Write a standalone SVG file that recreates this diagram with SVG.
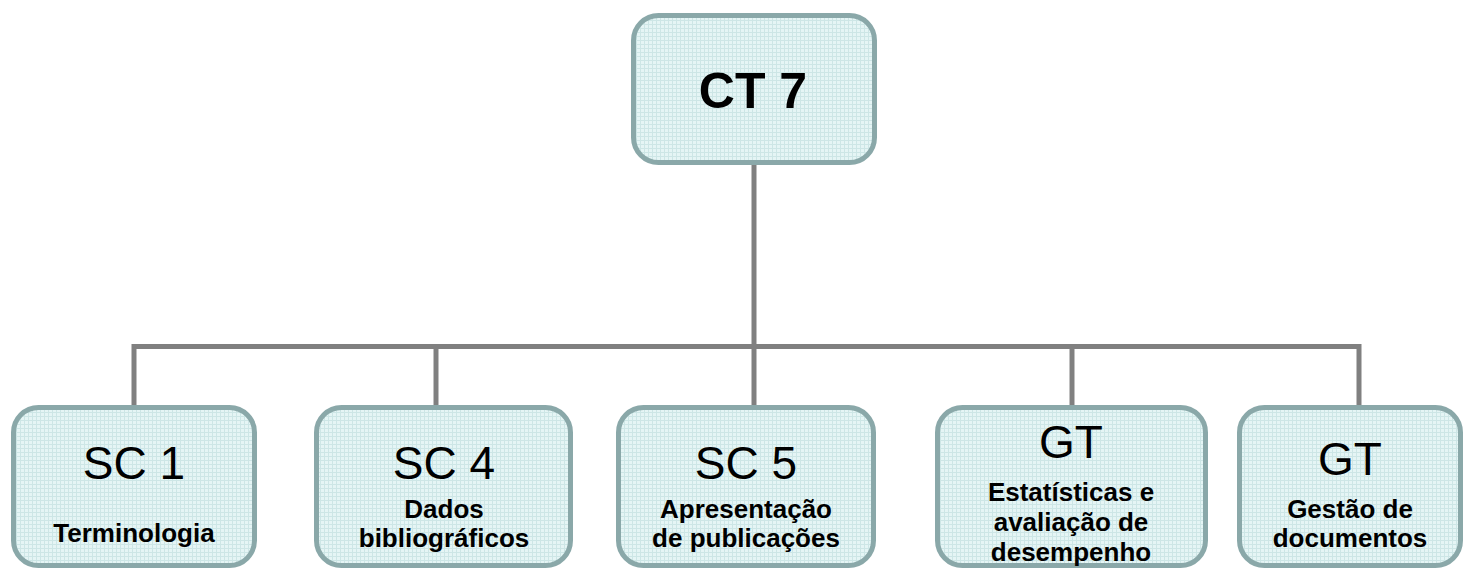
<svg xmlns="http://www.w3.org/2000/svg" width="1464" height="570" viewBox="0 0 1464 570">
  <defs>
    <pattern id="grid" width="4" height="4" patternUnits="userSpaceOnUse">
      <rect width="4" height="4" fill="#e5f5f5"/>
      <path d="M0 0.5H4M0.5 0V4" stroke="#cde6e6" stroke-width="1"/>
    </pattern>
    <style>
      .box { fill: url(#grid); stroke: #8aa8a9; stroke-width: 5; }
      .conn { stroke: #808080; stroke-width: 5; fill: none; }
      .big { font-family: "Liberation Sans", Arial, sans-serif; font-size: 46px; fill: #000; text-anchor: middle; }
      .small { font-family: "Liberation Sans", Arial, sans-serif; font-size: 26px; font-weight: bold; fill: #000; text-anchor: middle; }
      .title { font-family: "Liberation Sans", Arial, sans-serif; font-size: 50px; font-weight: bold; fill: #000; text-anchor: middle; }
    </style>
  </defs>
  <rect width="1464" height="570" fill="#ffffff"/>
  <g id="connectors">
    <path class="conn" d="M754 165V407"/>
    <path class="conn" d="M134 407V346.5H1359V407"/>
    <path class="conn" d="M436 346.5V407"/>
    <path class="conn" d="M1072 346.5V407"/>
  </g>
  <g id="ct7">
    <rect class="box" x="633.5" y="15.5" width="241" height="147" rx="25"/>
    <text class="title" x="753" y="108">CT 7</text>
  </g>
  <g id="sc1">
    <rect class="box" x="13.5" y="407.5" width="241" height="158" rx="25"/>
    <text class="big" x="134" y="479">SC 1</text>
    <text class="small" x="134" y="542">Terminologia</text>
  </g>
  <g id="sc4">
    <rect class="box" x="316.5" y="407.5" width="254" height="158" rx="25"/>
    <text class="big" x="444" y="479">SC 4</text>
    <text class="small" x="444" y="518">Dados</text>
    <text class="small" x="444" y="547">bibliográficos</text>
  </g>
  <g id="sc5">
    <rect class="box" x="618.5" y="407.5" width="255" height="158" rx="25"/>
    <text class="big" x="746" y="479">SC 5</text>
    <text class="small" x="746" y="518">Apresentação</text>
    <text class="small" x="746" y="547">de publicações</text>
  </g>
  <g id="gt1">
    <rect class="box" x="937.5" y="407.5" width="268" height="158" rx="25"/>
    <text class="big" x="1071" y="458">GT</text>
    <text class="small" x="1071" y="501">Estatísticas e</text>
    <text class="small" x="1071" y="531">avaliação de</text>
    <text class="small" x="1071" y="561">desempenho</text>
  </g>
  <g id="gt2">
    <rect class="box" x="1239.5" y="407.5" width="221" height="158" rx="25"/>
    <text class="big" x="1350" y="475">GT</text>
    <text class="small" x="1350" y="518">Gestão de</text>
    <text class="small" x="1350" y="547">documentos</text>
  </g>
</svg>
